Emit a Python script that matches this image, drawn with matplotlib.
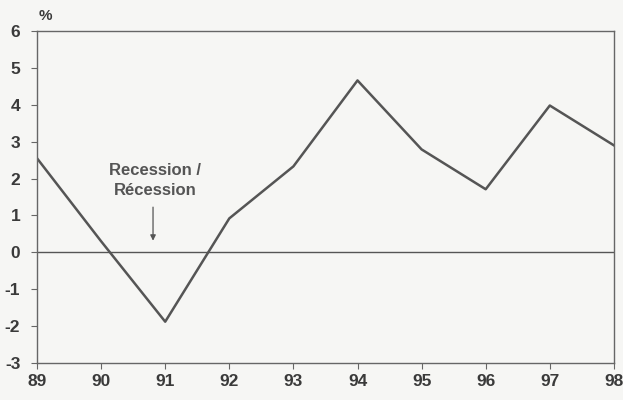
import matplotlib
matplotlib.use("Agg")
import matplotlib.pyplot as plt

years = [89, 90, 91, 92, 93, 94, 95, 96, 97, 98]
values = [2.55, 0.3, -1.88, 0.92, 2.33, 4.66, 2.79, 1.71, 3.98, 2.9]
xtick_labels = ["89", "90", "91", "92", "93", "94", "95", "96", "97", "98"]
yticks = [-3, -2, -1, 0, 1, 2, 3, 4, 5, 6]

plt.rcParams['font.family'] = ['Liberation Sans', 'DejaVu Sans']
plt.rcParams['axes.unicode_minus'] = False
bg = '#f6f6f4'
fig = plt.figure(figsize=(6.23, 4.0), dpi=100, facecolor=bg)
ax = fig.add_axes([0.0594, 0.0925, 0.926, 0.83], facecolor=bg)

lc = '#555555'
ax.plot(years, values, color=lc, lw=1.8)
ax.axhline(0, color=lc, lw=1.0)

ax.set_xlim(89, 98)
ax.set_ylim(-3, 6)
ax.set_xticks(years)
ax.set_xticklabels(xtick_labels)
ax.set_yticks(yticks)
for s in ax.spines.values():
    s.set_color('#666666')
    s.set_linewidth(1.0)
ax.tick_params(axis='both', colors='#666666', length=4, width=0.8,
               labelsize=12.5, labelcolor='#3a3a3a')
for lab in ax.get_xticklabels() + ax.get_yticklabels():
    lab.set_fontweight('bold')
ax.tick_params(axis='x', pad=4)
ax.tick_params(axis='y', pad=8)

ax.text(89.13, 6.22, '%', fontsize=11, fontweight='bold', color='#3a3a3a',
        ha='center', va='bottom')

ax.text(90.84, 1.95, 'Recession /\nRécession', fontsize=12, fontweight='bold',
        color='#555555', ha='center', va='center', linespacing=1.35)
ax.annotate('', xy=(90.81, 0.24), xytext=(90.81, 1.3),
            arrowprops=dict(arrowstyle='-|>', color='#555555', lw=0.9,
                            mutation_scale=8))

fig.savefig('out.png', dpi=100, facecolor=bg)
